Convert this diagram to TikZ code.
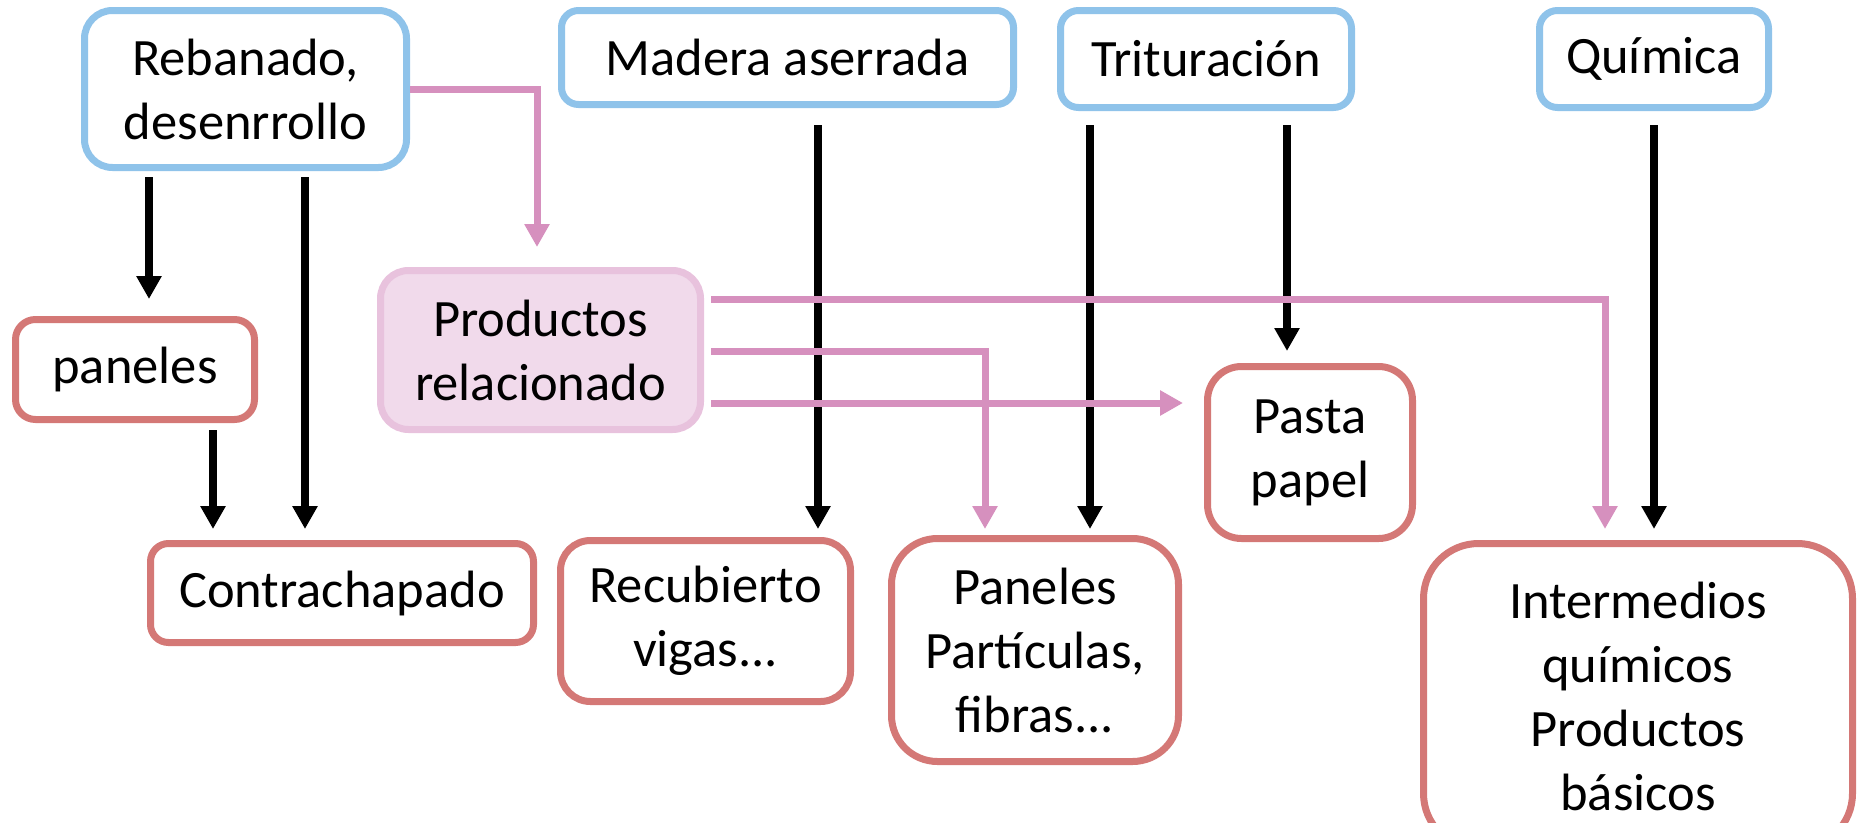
\documentclass[tikz,border=0pt]{standalone}
\usepackage{fontspec}
\setmainfont{Carlito}
\usetikzlibrary{arrows.meta}
\definecolor{bluebd}{RGB}{143,195,234}
\definecolor{redbd}{RGB}{212,120,118}
\definecolor{pinkln}{RGB}{214,144,190}
\definecolor{pinkfill}{RGB}{241,218,235}
\definecolor{pinkbd}{RGB}{232,194,221}
\tikzset{
  basebox/.style={draw, line width=7pt, fill=white, inner sep=0pt, align=center,
    font=\fontsize{52.5}{64}\selectfont},
  srcbox/.style={basebox, draw=bluebd},
  outbox/.style={basebox, draw=redbd},
  midbox/.style={basebox, draw=pinkbd, fill=pinkfill},
  blkarrow/.style={draw=black, line width=8pt, -{Triangle[length=23pt,width=24pt]}},
  pnkarrow/.style={draw=pinkln, line width=7pt, -{Triangle[length=23pt,width=24pt]}}
}
\begin{document}
\begin{tikzpicture}[x=1pt,y=-1pt]
\useasboundingbox (0,0) rectangle (1858,822);
\clip (0,0) rectangle (1858,822);
% source boxes
\node[srcbox, minimum width=322pt, minimum height=157pt, rounded corners=28pt] (reb) at (245.5,89) {Rebanado,\\desenrrollo};
\node[srcbox, minimum width=452pt, minimum height=94pt, rounded corners=17pt] (mad) at (787.5,57.5) {Madera aserrada};
\node[srcbox, minimum width=291pt, minimum height=97pt, rounded corners=18pt] (tri) at (1206,59) {Trituración};
\node[srcbox, minimum width=229pt, minimum height=97pt, rounded corners=18pt] (qui) at (1654,59) {Química};
% intermediate
\node[outbox, minimum width=239pt, minimum height=100pt, rounded corners=20pt] (pan) at (135,369.5) {paneles};
\node[midbox, minimum width=320pt, minimum height=159pt, rounded corners=28pt] (prod) at (540.5,350) {Productos\\relacionado};
\node[outbox, minimum width=205pt, minimum height=172pt, rounded corners=34pt] (pasta) at (1310,452.5) {Pasta\\papel};
% outputs
\node[outbox, minimum width=383pt, minimum height=99pt, rounded corners=18pt] (con) at (342,593) {Contrachapado};
\node[outbox, minimum width=290pt, minimum height=161pt, rounded corners=30pt] (rec) at (705.5,621) {Recubierto\\vigas...};
\node[outbox, minimum width=287pt, minimum height=223pt, rounded corners=46pt] (ppf) at (1035,650) {Paneles\\Partículas,\\fibras...};
\node[outbox, minimum width=429pt, minimum height=305pt, rounded corners=55pt] (inter) at (1638,696) {Intermedios\\químicos\\Productos\\básicos};
% black arrows
\draw[blkarrow] ([xshift=-96.5pt,yshift=-6pt]reb.south) -- ([xshift=14pt,yshift=17pt]pan.north);
\draw[blkarrow] ([xshift=59.5pt,yshift=-6pt]reb.south) -- ([xshift=-37pt,yshift=11pt]con.north);
\draw[blkarrow] ([xshift=78pt,yshift=-7pt]pan.south) -- ([xshift=-129pt,yshift=11pt]con.north);
\draw[blkarrow] ([xshift=30.5pt,yshift=-17pt]mad.south) -- ([xshift=112.5pt,yshift=8pt]rec.north);
\draw[blkarrow] ([xshift=-116pt,yshift=-14pt]tri.south) -- ([xshift=55pt,yshift=6pt]ppf.north);
\draw[blkarrow] ([xshift=81pt,yshift=-14pt]tri.south) -- ([xshift=-23pt,yshift=12pt]pasta.north);
\draw[blkarrow] ([yshift=-14pt]qui.south) -- ([xshift=16pt,yshift=11pt]inter.north);
% pink arrows
\draw[pnkarrow] (reb.east) -| ([xshift=-3.5pt,yshift=20pt]prod.north);
\draw[pnkarrow] ([xshift=7pt,yshift=51pt]prod.east) -| ([xshift=-33pt,yshift=11pt]inter.north);
\draw[pnkarrow] ([xshift=7pt,yshift=-1pt]prod.east) -| ([xshift=-50pt,yshift=6pt]ppf.north);
\coordinate (p3) at ([xshift=7pt,yshift=-53pt]prod.east);
\draw[pnkarrow] (p3) -- ([xshift=-21pt]pasta.west |- p3);
\end{tikzpicture}
\end{document}
